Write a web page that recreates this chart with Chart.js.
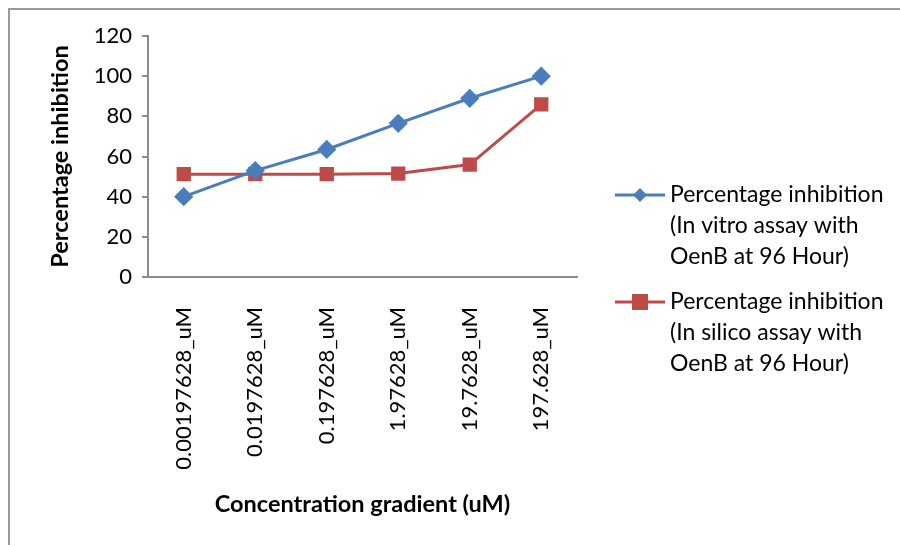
<!DOCTYPE html>
<html><head><meta charset="utf-8">
<script src="https://cdn.jsdelivr.net/npm/chart.js@4"></script>
<style>html,body{margin:0;padding:0;background:#fff}#wrap{width:900px;height:545px;position:relative}</style>
</head><body><div id="wrap"><canvas id="c" width="900" height="545"></canvas></div>
<script>
const categories = ["0.00197628_uM","0.0197628_uM","0.197628_uM","1.97628_uM","19.7628_uM","197.628_uM"];
const inVitro = [40, 53, 63.5, 76.5, 89, 100];
const inSilico = [51.2, 51.2, 51.2, 51.5, 56, 86];
const seriesNames = [
  ["Percentage inhibition","(In vitro assay with","OenB at 96 Hour)"],
  ["Percentage inhibition","(In silico assay with","OenB at 96 Hour)"]
];
const yTicks = [0,20,40,60,80,100,120];
const FONT = "Lato, 'Liberation Sans', sans-serif";

const frame = {
  id:'frame',
  beforeDraw(chart){
    const ctx = chart.ctx;
    ctx.save();
    ctx.strokeStyle = '#9a9a9a';
    ctx.lineWidth = 2;
    ctx.beginPath();
    ctx.moveTo(9, 545); ctx.lineTo(9, 9); ctx.lineTo(900, 9);
    ctx.stroke();
    ctx.restore();
  }
};
const legendPlugin = {
  id:'customLegend',
  afterDraw(chart){
    const ctx = chart.ctx;
    const starts = [195, 302];
    ctx.save();
    chart.data.datasets.forEach((ds, i) => {
      const y = starts[i];
      ctx.strokeStyle = ds.borderColor;
      ctx.lineWidth = 3;
      ctx.beginPath(); ctx.moveTo(615, y); ctx.lineTo(665, y); ctx.stroke();
      ctx.fillStyle = ds.pointBackgroundColor;
      if (ds.pointStyle === 'rectRot') {
        ctx.beginPath();
        ctx.moveTo(640, y-7); ctx.lineTo(647, y); ctx.lineTo(640, y+7); ctx.lineTo(633, y);
        ctx.closePath(); ctx.fill();
      } else {
        ctx.fillRect(632, y-8, 16, 16);
      }
      ctx.fillStyle = '#000';
      ctx.font = "23px " + FONT;
      ctx.textBaseline = 'middle';
      ctx.textAlign = 'left';
      seriesNames[i].forEach((t, k) => ctx.fillText(t, 670, y + k*31));
    });
    ctx.restore();
  }
};

new Chart(document.getElementById('c'), {
  type:'line',
  data:{
    labels: categories,
    datasets:[
      {label: seriesNames[0].join(' '), data: inVitro, borderColor:'#4a7ebb', backgroundColor:'#4a7ebb',
       pointBackgroundColor:'#4a7ebb', pointBorderColor:'#4a7ebb', pointStyle:'rectRot', pointRadius:7.5, borderWidth:3, tension:0},
      {label: seriesNames[1].join(' '), data: inSilico, borderColor:'#be4b48', backgroundColor:'#be4b48',
       pointBackgroundColor:'#be4b48', pointBorderColor:'#be4b48', pointStyle:'rect', pointRadius:8, borderWidth:3, tension:0}
    ]
  },
  options:{
    responsive:false, animation:false, devicePixelRatio:1,
    layout:{padding:{left:0, right:323, top:36, bottom:0}},
    plugins:{legend:{display:false}, tooltip:{enabled:false}},
    scales:{
      x:{
        offset:true,
        grid:{display:false, offset:true},
        border:{display:true, color:'#8c8c8c', width:2},
        ticks:{minRotation:90, maxRotation:90, padding:22, color:'#000', font:{family:FONT, size:22}},
        title:{display:true, text:'Concentration gradient (uM)', color:'#000', font:{family:FONT, size:23.5, weight:'bold'}, padding:{top:0,bottom:26}},
        afterFit(s){ s.height = 268; }
      },
      y:{
        min:0, max:120,
        afterBuildTicks(s){ s.ticks = yTicks.map(v=>({value:v})); },
        grid:{drawOnChartArea:false, drawTicks:true, tickLength:6, color:'#8c8c8c', lineWidth:2},
        border:{display:true, color:'#8c8c8c', width:2},
        ticks:{padding:10, color:'#000', font:{family:FONT, size:22}},
        title:{display:true, text:'Percentage inhibition', color:'#000', font:{family:FONT, size:23.5, weight:'bold'}, padding:{top:46,bottom:14}},
        afterFit(s){ s.width = 148; }
      }
    }
  },
  plugins:[frame, legendPlugin]
});
</script></body></html>
